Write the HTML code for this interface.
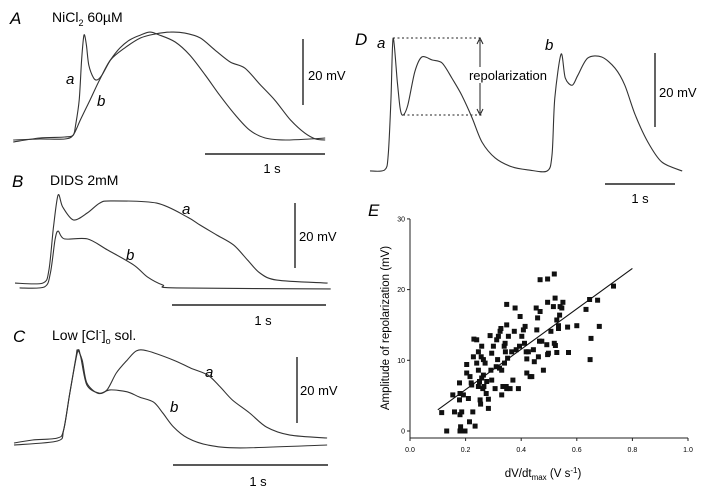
<!DOCTYPE html>
<html><head><meta charset="utf-8"><style>
body{margin:0;background:#fff}
svg{display:block;font-family:"Liberation Sans",sans-serif}
.tr{fill:none;stroke:#333;stroke-width:1.1}
.it{font-style:italic}
</style></head><body>
<svg id="fig" width="709" height="491" viewBox="0 0 709 491">
<g>
<text x="10" y="24" font-size="17" class="it">A</text>
<text x="52" y="22" font-size="14">NiCl<tspan font-size="9" dy="4">2</tspan><tspan dy="-4">  60µM</tspan></text>
<text x="66" y="84" font-size="15" class="it">a</text>
<text x="97" y="106" font-size="15" class="it">b</text>
<line x1="303" y1="39" x2="303" y2="105" stroke="#222" stroke-width="1.4"/>
<text x="308" y="80" font-size="13">20 mV</text>
<line x1="205" y1="154" x2="325" y2="154" stroke="#222" stroke-width="1.6"/>
<text x="272" y="173" font-size="13" text-anchor="middle">1 s</text>
</g>
<g>
<text x="12" y="187" font-size="17" class="it">B</text>
<text x="50" y="185" font-size="14">DIDS  2mM</text>
<text x="182" y="214" font-size="15" class="it">a</text>
<text x="126" y="260" font-size="15" class="it">b</text>
<line x1="295" y1="203" x2="295" y2="268" stroke="#222" stroke-width="1.4"/>
<text x="299" y="241" font-size="13">20 mV</text>
<line x1="172" y1="305" x2="326" y2="305" stroke="#222" stroke-width="1.6"/>
<text x="263" y="325" font-size="13" text-anchor="middle">1 s</text>
</g>
<g>
<text x="13" y="342" font-size="17" class="it">C</text>
<text x="52" y="340" font-size="14">Low [Cl<tspan font-size="9" dy="-5">-</tspan><tspan dy="5">]</tspan><tspan font-size="9" dy="4">o</tspan><tspan dy="-4"> sol.</tspan></text>
<text x="205" y="377" font-size="15" class="it">a</text>
<text x="170" y="412" font-size="15" class="it">b</text>
<line x1="297" y1="357" x2="297" y2="423" stroke="#222" stroke-width="1.4"/>
<text x="300" y="395" font-size="13">20 mV</text>
<line x1="173" y1="465" x2="328" y2="465" stroke="#222" stroke-width="1.6"/>
<text x="258" y="486" font-size="13" text-anchor="middle">1 s</text>
</g>
<g>
<text x="355" y="45" font-size="17" class="it">D</text>
<text x="377" y="48" font-size="15" class="it">a</text>
<text x="545" y="50" font-size="15" class="it">b</text>
<line x1="393" y1="38" x2="482" y2="38" stroke="#222" stroke-dasharray="2,2.5"/>
<line x1="403" y1="115" x2="482" y2="115" stroke="#222" stroke-dasharray="2,2.5"/>
<line x1="480" y1="40" x2="480" y2="113" stroke="#222"/>
<path d="M477,44 L480,38 L483,44 M477,109 L480,115 L483,109" fill="none" stroke="#222"/>
<rect x="462" y="67" width="92" height="16" fill="#fff"/>
<text x="508" y="80" font-size="13" text-anchor="middle">repolarization</text>
<line x1="655" y1="53" x2="655" y2="127" stroke="#222" stroke-width="1.4"/>
<text x="659" y="97" font-size="13">20 mV</text>
<line x1="605" y1="184" x2="675" y2="184" stroke="#222" stroke-width="1.6"/>
<text x="640" y="203" font-size="13" text-anchor="middle">1 s</text>
</g>
<g id="pe">
<text x="368" y="216" font-size="17" class="it">E</text>
<line x1="410" y1="219" x2="410" y2="438" stroke="#222"/>
<line x1="410" y1="438" x2="688" y2="438" stroke="#222"/>
<text transform="translate(389,328) rotate(-90)" font-size="11.5" text-anchor="middle">Amplitude of repolarization (mV)</text>
<text x="543" y="477" font-size="11.5" text-anchor="middle">dV/dt<tspan font-size="8" dy="3">max</tspan><tspan dy="-3"> (V s</tspan><tspan font-size="8" dy="-4">-1</tspan><tspan dy="4">)</tspan></text>
</g>
</svg>
<script>
const aTa=[0.01,.23,.44,.51,.53,.56,.58,.60,.62,.64,.68,.71,.75,.82,.90,.98,1.07,1.15,1.23,1.36,1.48,1.61,1.73,1.86,1.98,2.11,2.28,2.48,2.61];
const aVa=[-.6,.6,.9,1.5,4.5,12.1,24.2,31.8,28.8,22.7,18.8,18.2,19.7,24.2,27.9,30.3,31.8,32.7,31.8,29.7,25.8,19.7,13.6,7.6,3.0,.6,0,.3,.6];
const aTb=[.01,.23,.44,.51,.57,.65,.73,.82,.94,1.07,1.19,1.32,1.44,1.57,1.69,1.82,1.94,2.07,2.19,2.32,2.44,2.53,2.61];
const aVb=[0,.3,.3,1.5,6.1,12.1,18.2,24.2,27.9,30.9,32.1,32.7,32.4,30.9,27.3,23.6,21.8,16.7,12.1,6.1,2.1,.3,0];
const bTa=[0,.18,.22,.25,.28,.31,.38,.47,.55,.62,.92,1.12,1.2,1.31,1.42,1.51,1.59,1.7,2.03];
const bVa=[.9,.9,4.9,18.2,28,24.3,20.3,22.5,25.5,26.2,25.5,21.2,18.8,15.7,12.6,8,4,1.8,.9];
const bTb=[.03,.19,.23,.26,.28,.32,.47,.6,.77,.86,.96,1.05,2.05];
const bVb=[-.6,-.3,4,14.2,16.9,14.5,14.5,11.1,6.5,2.8,.3,-.6,-.9];
const cTa=[0,.12,.28,.32,.36,.4,.41,.44,.47,.54,.6,.66,.73,.79,.86,1.03,1.14,1.25,1.33,1.41,1.52,1.63,1.78,2.02];
const cVa=[-.3,.6,1.2,3.6,14.8,25.8,27.9,24.8,17.9,14.8,15.8,20.9,24.8,27.6,27.6,24.8,22.4,20.3,16.7,12.7,8.8,4.5,2.1,1.2];
const cTb=[0,.28,.32,.36,.41,.43,.47,.55,.62,.73,.81,.9,.96,1.03,1.12,1.25,1.46,2.02];
const cVb=[-.9,.3,3.6,14.8,27.3,25.8,17.3,14.8,15.8,15.2,13.6,12.1,8.8,4.5,1.2,-.9,-1.8,-.9];
const dT=[0,.21,.26,.3,.33,.39,.43,.47,.54,.64,.74,.89,1.03,1.17,1.31,1.46,1.6,1.79,2.03,2.26,2.53,2.6,2.64,2.73,2.79,2.89,2.97,3.11,3.31,3.5,3.64,3.79,3.97,4.17,4.46];
const dV=[0,.3,4.3,19.7,35.9,24.1,17,15.1,17.8,26.8,30.8,30,29.2,25.1,20.5,14.3,7.8,3.5,1.1,.3,0,4.3,19.7,31.6,25.1,23.2,25.9,30.5,30.8,27.8,23.2,15.1,7.8,2.4,0];
const dvdt=[.114,.132,.154,.160,.178,.180,.178,.180,.182,.180,.186,.192,.198,.204,.204,.210,.214,.216,.220,.222,.226,.228,.230,.234,.240,.240,.246,.246,.246,.250,.252,.254,.256,.258,.258,.262,.264,.264,.266,.270,.274,.276,.282,.282,.288,.291,.294,.294,.300,.306,.310,.312,.315,.318,.322,.324,.327,.330,.330,.334,.339,.340,.342,.343,.346,.348,.348,.348,.351,.354,.360,.366,.370,.375,.378,.382,.390,.394,.396,.402,.408,.412,.414,.418,.426,.420,.420,.432,.438,.444,.447,.454,.456,.459,.462,.466,.468,.474,.480,.492,.495,.498,.507,.516,.519,.523,.468,.495,.519,.495,.522,.528,.534,.534,.528,.538,.540,.546,.550,.567,.570,.600,.633,.646,.648,.651,.675,.681,.732];
const amp=[2.6,0,5.1,2.7,6.8,5.3,4.4,2.3,.6,0,2.7,5.1,0,9.4,8.2,4.6,1.3,7.7,6.8,6.5,2.7,10.5,13.0,.7,12.9,9.6,11.2,8.6,6.3,7.0,4.4,3.8,10.5,12.0,7.5,6.0,10.1,7.9,6.3,9.6,5.3,7.0,4.5,3.2,13.5,8.6,11.0,7.2,12.0,6.0,9.1,12.9,10.1,13.4,8.9,14.1,14.5,8.6,5.1,6.3,12.0,9.6,12.4,11.2,6.3,15.0,6.0,17.9,10.3,13.4,6.0,11.2,7.2,14.1,17.4,11.5,6.0,12.0,16.2,13.4,14.3,12.4,14.8,11.2,11.2,10.2,8.2,7.7,7.7,11.5,9.8,17.4,14.3,16.0,10.5,12.7,16.9,12.7,8.6,12.2,10.8,11.0,14.1,17.6,12.4,12.1,21.4,21.5,22.2,18.2,18.8,11.1,14.9,14.5,15.7,16.4,17.6,17.4,18.2,14.7,11.1,14.9,17.2,18.6,10.1,13.1,18.5,14.8,20.5];
const fitX=[0.1,0.8];
const fitY=[3,23];
const xTicks=[0.0,0.2,0.4,0.6,0.8,1.0];
const yTicks=[0,10,20,30];

const NS='http://www.w3.org/2000/svg';
const svg=document.getElementById('fig');
function drawTrace(ts,vs,x0,kx,y0,ky,name){
  const P=ts.map((t,i)=>[x0+t*kx,y0-vs[i]*ky]);
  let d='M'+P[0][0].toFixed(1)+','+P[0][1].toFixed(1);
  for(let i=0;i<P.length-1;i++){
    const p0=P[Math.max(0,i-1)],p1=P[i],p2=P[i+1],p3=P[Math.min(P.length-1,i+2)];
    const k=0.15;
    const c1=[p1[0]+(p2[0]-p0[0])*k,p1[1]+(p2[1]-p0[1])*k];
    const c2=[p2[0]-(p3[0]-p1[0])*k,p2[1]-(p3[1]-p1[1])*k];
    d+='C'+c1[0].toFixed(1)+','+c1[1].toFixed(1)+' '+c2[0].toFixed(1)+','+c2[1].toFixed(1)+' '+p2[0].toFixed(1)+','+p2[1].toFixed(1);
  }
  const p=document.createElementNS(NS,'path');
  p.setAttribute('d',d);p.setAttribute('class','tr');
  p.setAttribute('stroke-linejoin','round');
  
  
  svg.appendChild(p);
}
drawTrace(aTa,aVa,12,120,140,3.3,'trace-a-panel-a');
drawTrace(aTb,aVb,12,120,140,3.3,'trace-b-panel-a');
drawTrace(bTa,bVa,15,154,286,3.25,'trace-a-panel-b');
drawTrace(bTb,bVb,15,154,286,3.25,'trace-b-panel-b');
drawTrace(cTa,cVa,14,155,442,3.3,'trace-a-panel-c');
drawTrace(cTb,cVb,14,155,442,3.3,'trace-b-panel-c');
drawTrace(dT,dV,370,70,171,3.7,'trace-panel-d');

const pe=document.getElementById('pe');
const sx=v=>410+v*278;
const sy=v=>431-v*7.07;
xTicks.forEach(t=>{
  const l=document.createElementNS(NS,'line');
  l.setAttribute('x1',sx(t));l.setAttribute('x2',sx(t));l.setAttribute('y1',438);l.setAttribute('y2',441);l.setAttribute('stroke','#222');
  
  
  pe.appendChild(l);
  const tx=document.createElementNS(NS,'text');
  tx.setAttribute('x',sx(t));tx.setAttribute('y',452);tx.setAttribute('font-size','7');tx.setAttribute('text-anchor','middle');
  tx.textContent=t.toFixed(1);
  
  
  pe.appendChild(tx);
});
yTicks.forEach(t=>{
  const l=document.createElementNS(NS,'line');
  l.setAttribute('x1',407);l.setAttribute('x2',410);l.setAttribute('y1',sy(t));l.setAttribute('y2',sy(t));l.setAttribute('stroke','#222');
  
  
  pe.appendChild(l);
  const tx=document.createElementNS(NS,'text');
  tx.setAttribute('x',405);tx.setAttribute('y',sy(t)+2.5);tx.setAttribute('font-size','7');tx.setAttribute('text-anchor','end');
  tx.textContent=t;
  
  
  pe.appendChild(tx);
});
dvdt.forEach((v,i)=>{
  const r=document.createElementNS(NS,'rect');
  r.setAttribute('x',(sx(v)-2.5).toFixed(1));r.setAttribute('y',(sy(amp[i])-2.5).toFixed(1));
  r.setAttribute('width',5);r.setAttribute('height',5);r.setAttribute('fill','#111');
  
  
  pe.appendChild(r);
});
const fl=document.createElementNS(NS,'line');
fl.setAttribute('x1',sx(fitX[0]));fl.setAttribute('y1',sy(fitY[0]));
fl.setAttribute('x2',sx(fitX[1]));fl.setAttribute('y2',sy(fitY[1]));
fl.setAttribute('stroke','#111');fl.setAttribute('stroke-width','1.1');


pe.appendChild(fl);
</script>
</body></html>
